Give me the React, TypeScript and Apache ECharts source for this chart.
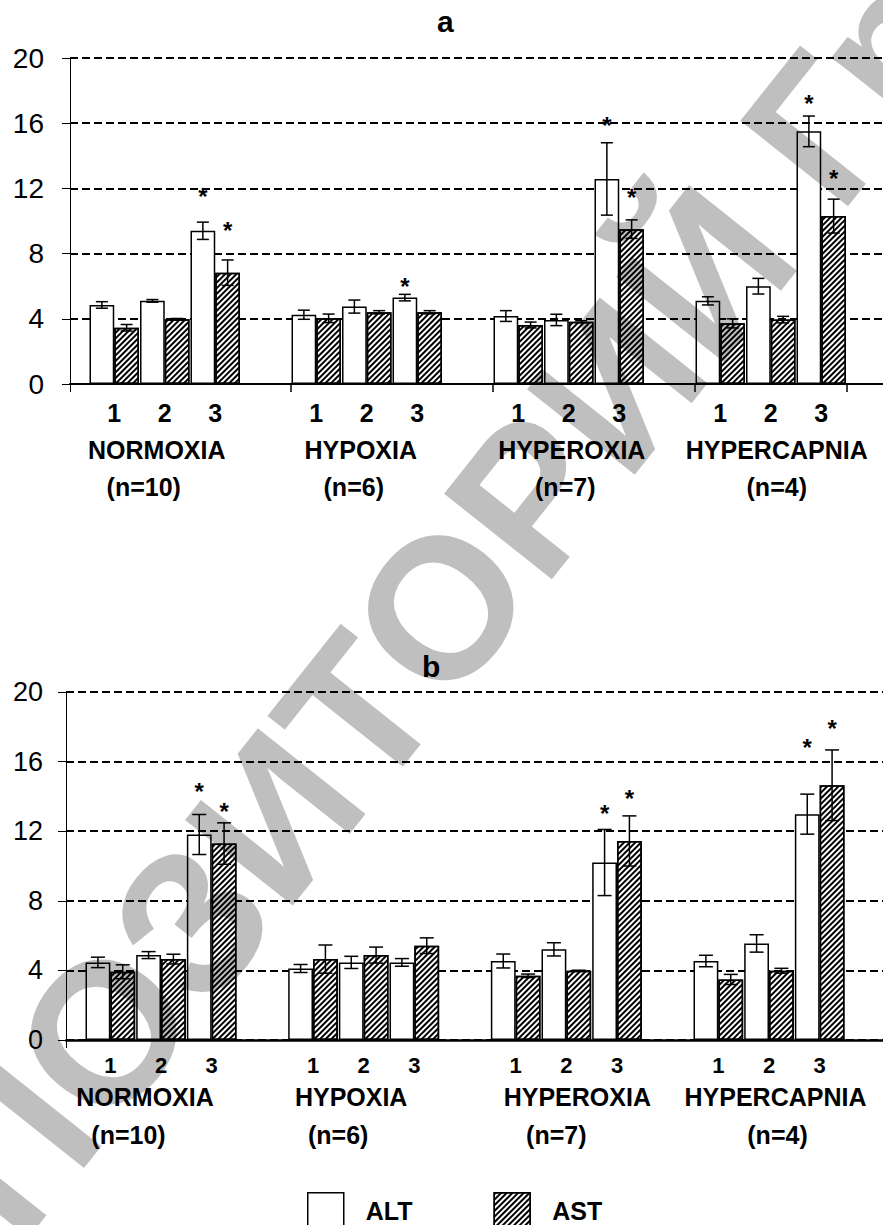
import React, { useEffect, useRef } from "react";
import * as echarts from "echarts";

// ---------- data ----------
const slots = ["1", "2", "3", "", "1", "2", "3", "", "1", "2", "3", "", "1", "2", "3"];
const groups = ["NORMOXIA", "HYPOXIA", "HYPEROXIA", "HYPERCAPNIA"];
const groupN = ["(n=10)", "(n=6)", "(n=7)", "(n=4)"];
const seriesNames = ["ALT", "AST"];

// panel a
const altA = [4.85, 5.1, 9.4, null, 4.25, 4.75, 5.3, null, 4.17, 3.93, 12.58, null, 5.1, 6.0, 15.5];
const altAErr = [0.2, 0.08, 0.53, null, 0.28, 0.4, 0.2, null, 0.33, 0.35, 2.22, null, 0.25, 0.48, 0.94];
const astA = [3.45, 3.97, 6.83, null, 4.03, 4.4, 4.4, null, 3.62, 3.82, 9.5, null, 3.72, 3.95, 10.3];
const astAErr = [0.2, 0.05, 0.78, null, 0.26, 0.1, 0.1, null, 0.18, 0.06, 0.57, null, 0.28, 0.2, 1.04];
const altAStar = [null, null, 11.9, null, null, null, 6.32, null, null, null, 16.2, null, null, null, 17.58];
const astAStar = [null, null, 9.76, null, null, null, null, null, null, null, 11.8, null, null, null, 13.0];

// panel b
const altB = [4.46, 4.88, 11.81, null, 4.11, 4.46, 4.46, null, 4.54, 5.21, 10.2, null, 4.54, 5.55, 12.98];
const altBErr = [0.3, 0.2, 1.15, null, 0.23, 0.35, 0.22, null, 0.4, 0.38, 1.9, null, 0.33, 0.5, 1.15];
const astB = [3.92, 4.65, 11.29, null, 4.65, 4.88, 5.42, null, 3.69, 3.98, 11.44, null, 3.48, 3.98, 14.64];
const astBErr = [0.4, 0.28, 1.19, null, 0.81, 0.46, 0.45, null, 0.1, 0.03, 1.44, null, 0.29, 0.14, 2.03];
const altBStar = [null, null, 14.64, null, null, null, null, null, null, null, 13.34, null, null, null, 17.13];
const astBStar = [null, null, 13.45, null, null, null, null, null, null, null, 14.2, null, null, null, 18.24];

const yMin = 0;
const yMax = 20;
const yStep = 4;

const watermarkText = "РЕПОЗИТОРИЙ ГрГУ";

// ---------- layout / style ----------
const FONT = 'Arial, "Liberation Sans", Helvetica, sans-serif';
const HATCH = {
  symbol: "rect",
  symbolSize: 1,
  dashArrayX: [1, 0],
  dashArrayY: [1.1, 1.9],
  rotation: -Math.PI / 4,
  color: "#000",
};

const panels = [
  {
    title: "a", titleLeft: 437, titleTop: 6,
    frame: { left: 70, top: 58, width: 813, height: 326 },
    bars: { left: 89, top: 58, width: 757.5, height: 326 },
    yFont: 28, yMargin: 26, xWidth: 2, groupTicks: true,
    numFont: 25, numMargin: 16, nameMargin: 53, nMargin: 90,
    nameShift: [-8, -6, 3, 6], nShift: [-21, -13, -3.5, 6], cap: 12,
    alt: altA, altErr: altAErr, ast: astA, astErr: astAErr, altStar: altAStar, astStar: astAStar,
  },
  {
    title: "b", titleLeft: 422, titleTop: 651,
    frame: { left: 66, top: 692, width: 817, height: 348 },
    bars: { left: 85, top: 692, width: 760, height: 348 },
    yFont: 27, yMargin: 23, xWidth: 2.5, groupTicks: false,
    numFont: 22, numMargin: 14, nameMargin: 44, nMargin: 82,
    nameShift: [-16, -12.5, 11, 6.5], nShift: [-32.5, -25.5, -10, 8.5], cap: 14,
    alt: altB, altErr: altBErr, ast: astB, astErr: astBErr, altStar: altBStar, astStar: astBStar,
  },
];

function shiftPad(s: number) {
  return s < 0 ? [0, -2 * s, 0, 0] : [0, 0, 0, 2 * s];
}

function buildOption() {
  const grid: any[] = [];
  const xAxis: any[] = [];
  const yAxis: any[] = [];
  const series: any[] = [];
  const title: any[] = [];

  panels.forEach((p) => {
    title.push({
      text: p.title, left: p.titleLeft, top: p.titleTop, padding: 0,
      textStyle: { fontSize: 30, fontWeight: "bold", color: "#000", fontFamily: FONT },
    });

    // frame grid: y axis, dashed gridlines, x axis line
    const gF = grid.length;
    grid.push({ ...p.frame });
    xAxis.push({
      gridIndex: gF, type: "value", min: 0, max: 1, interval: 1,
      axisLine: { show: true, onZero: false, lineStyle: { color: "#000", width: p.xWidth } },
      axisTick: { show: true, length: 8, lineStyle: { color: "#000", width: 1 } },
      axisLabel: { show: false }, splitLine: { show: false },
    });
    yAxis.push({
      gridIndex: gF, type: "value", min: yMin, max: yMax, interval: yStep,
      axisLine: { show: true, lineStyle: { color: "#000", width: 1 } },
      axisTick: { show: true, length: 8, lineStyle: { color: "#000", width: 1 } },
      axisLabel: { fontSize: p.yFont, color: "#000", fontFamily: FONT, margin: p.yMargin },
      splitLine: { show: true, lineStyle: { color: "#000", type: [8, 4], width: 2 } },
    });

    // bars grid
    const gB = grid.length;
    grid.push({ ...p.bars });
    const xB = xAxis.length;
    xAxis.push({
      gridIndex: gB, type: "category", data: slots, boundaryGap: true,
      axisLine: { show: false },
      axisTick: {
        show: p.groupTicks, length: 8,
        interval: (i: number) => i > 0 && i % 4 === 0,
        lineStyle: { color: "#000", width: 1.5 },
      },
      axisLabel: {
        interval: 0, fontSize: p.numFont, fontWeight: "bold", color: "#000",
        fontFamily: FONT, margin: p.numMargin,
      },
    });
    const yB = yAxis.length;
    yAxis.push({ gridIndex: gB, type: "value", min: yMin, max: yMax, show: false });

    // group-name grid and n grid
    const mkLabelAxis = (texts: string[], shifts: number[], margin: number) => {
      const g = grid.length;
      grid.push({ ...p.bars });
      const rich: any = {};
      texts.forEach((_, k) => {
        rich["s" + k] = {
          fontSize: 25, fontWeight: "bold", color: "#000", fontFamily: FONT,
          padding: shiftPad(shifts[k]),
        };
      });
      xAxis.push({
        gridIndex: g, type: "category", data: slots, boundaryGap: true,
        axisLine: { show: false }, axisTick: { show: false },
        axisLabel: {
          interval: 0, margin, fontSize: 25, fontWeight: "bold", color: "#000", fontFamily: FONT,
          formatter: (_v: string, i: number) => (i % 4 === 1 ? `{s${(i - 1) / 4}|${texts[(i - 1) / 4]}}` : ""),
          rich,
        },
      });
      yAxis.push({ gridIndex: g, type: "value", min: yMin, max: yMax, show: false });
    };
    mkLabelAxis(groups, p.nameShift, p.nameMargin);
    mkLabelAxis(groupN, p.nShift, p.nMargin);

    const toBar = (arr: (number | null)[]) => arr.map((v) => (v == null ? "-" : v));
    series.push({
      type: "bar", name: seriesNames[0], xAxisIndex: xB, yAxisIndex: yB,
      data: toBar(p.alt), barGap: "0%", barCategoryGap: "2%", silent: true,
      itemStyle: { color: "#fff", borderColor: "#000", borderWidth: 1.5 },
    });
    series.push({
      type: "bar", name: seriesNames[1], xAxisIndex: xB, yAxisIndex: yB,
      data: toBar(p.ast), barGap: "0%", barCategoryGap: "2%", silent: true,
      itemStyle: { color: "#fff", borderColor: "#000", borderWidth: 1.5, decal: HATCH },
    });

    const errData: number[][] = [];
    p.alt.forEach((v, i) => { if (v != null) errData.push([i, v, p.altErr[i] as number, -1]); });
    p.ast.forEach((v, i) => { if (v != null) errData.push([i, v, p.astErr[i] as number, 1]); });
    const cap = p.cap;
    series.push({
      type: "custom", xAxisIndex: xB, yAxisIndex: yB, z: 5, silent: true,
      data: errData,
      renderItem: (_params: any, api: any) => {
        const i = api.value(0), v = api.value(1), e = api.value(2), s = api.value(3);
        const bw = api.size([1, 0])[0];
        const cx = api.coord([i, v])[0] + s * bw * 0.245;
        const yt = api.coord([i, v + e])[1];
        const yb = api.coord([i, v - e])[1];
        const h = cap / 2;
        const st = { stroke: "#000", lineWidth: 1.5 };
        return {
          type: "group",
          children: [
            { type: "line", shape: { x1: cx, y1: yt, x2: cx, y2: yb }, style: st },
            { type: "line", shape: { x1: cx - h, y1: yt, x2: cx + h, y2: yt }, style: st },
            { type: "line", shape: { x1: cx - h, y1: yb, x2: cx + h, y2: yb }, style: st },
          ],
        };
      },
    });

    const starData: number[][] = [];
    p.altStar.forEach((v, i) => { if (v != null) starData.push([i, v, -1]); });
    p.astStar.forEach((v, i) => { if (v != null) starData.push([i, v, 1]); });
    series.push({
      type: "custom", xAxisIndex: xB, yAxisIndex: yB, z: 6, silent: true,
      data: starData,
      renderItem: (_params: any, api: any) => {
        const i = api.value(0), v = api.value(1), s = api.value(2);
        const bw = api.size([1, 0])[0];
        const c = api.coord([i, v]);
        return {
          type: "text",
          x: c[0] + s * bw * 0.245,
          y: c[1] + 6,
          style: {
            text: "*", font: `bold 24px ${FONT}`, fill: "#000",
            align: "center", verticalAlign: "middle",
            textAlign: "center", textVerticalAlign: "middle",
          },
        };
      },
    });
  });

  return {
    animation: false,
    backgroundColor: "#fff",
    title,
    grid,
    xAxis,
    yAxis,
    series,
    legend: {
      data: [
        { name: "ALT", icon: "rect", itemStyle: { color: "#fff", borderColor: "#000", borderWidth: 1.5 } },
        { name: "AST", icon: "rect", itemStyle: { color: "#fff", borderColor: "#000", borderWidth: 1.5, decal: HATCH } },
      ],
      left: 307, top: 1192, padding: 0,
      itemWidth: 36, itemHeight: 36, itemGap: 81, selectedMode: false,
      textStyle: { fontSize: 25, fontWeight: "bold", color: "#000", fontFamily: FONT, padding: [0, 0, 0, 17] },
    },
    graphic: [
      {
        type: "text", x: -200, y: 1414, rotation: 0.899, z: 100, silent: true,
        style: {
          text: watermarkText, font: `bold 200px ${FONT}`, fill: "rgba(0,0,0,0.25)",
          align: "left", verticalAlign: "middle", textAlign: "left", textVerticalAlign: "middle",
        },
      },
    ],
  };
}

export default function App() {
  const ref = useRef<HTMLDivElement>(null);
  useEffect(() => {
    if (!ref.current) return;
    const chart = echarts.init(ref.current, undefined, { renderer: "svg" });
    chart.setOption(buildOption() as any);
    return () => chart.dispose();
  }, []);
  return (
    <div
      ref={ref}
      style={{ position: "absolute", left: 0, top: 0, width: 883, height: 1225, background: "#fff" }}
    />
  );
}
